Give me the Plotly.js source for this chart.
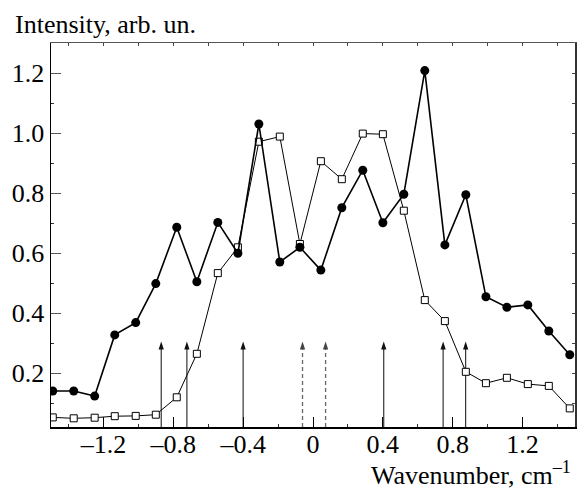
<!DOCTYPE html>
<html>
<head>
<meta charset="utf-8">
<script src="https://cdn.plot.ly/plotly-3.0.1.min.js"></script>
<style>html,body{margin:0;padding:0;background:#fff;}#chart{width:578px;height:488px;}</style>
</head>
<body>
<div id="chart"></div>
<script>
// Wavenumber positions (cm^-1)
const wavenumber = [-1.49, -1.37, -1.25, -1.135, -1.015, -0.90, -0.78, -0.665, -0.545, -0.43, -0.31, -0.19, -0.075, 0.045, 0.165, 0.285, 0.40, 0.52, 0.64, 0.755, 0.875, 0.99, 1.11, 1.23, 1.35, 1.47];
// Filled circles series
const intensityFilled = [0.14, 0.14, 0.123, 0.327, 0.368, 0.498, 0.686, 0.504, 0.702, 0.599, 1.03, 0.57, 0.619, 0.543, 0.751, 0.876, 0.701, 0.796, 1.208, 0.627, 0.794, 0.454, 0.419, 0.427, 0.34, 0.261];
// Open squares series
const intensityOpen = [0.052, 0.049, 0.051, 0.056, 0.057, 0.061, 0.119, 0.264, 0.533, 0.619, 0.971, 0.988, 0.63, 0.906, 0.846, 0.998, 0.996, 0.741, 0.443, 0.373, 0.204, 0.166, 0.184, 0.163, 0.157, 0.082];
// Vertical arrows
const arrowX = [-0.869, -0.722, -0.40, -0.06, 0.072, 0.405, 0.745, 0.874];
const arrowDashed = [false, false, false, true, true, false, false, false];
const arrowBase = 0.02;
const arrowTip = 0.305;
// Tick labels
const xTickVals = [-1.2, -0.8, -0.4, 0, 0.4, 0.8, 1.2];
const xTickText = ['–1.2', '–0.8', '–0.4', '0', '0.4', '0.8', '1.2'];
const yTickVals = [0.2, 0.4, 0.6, 0.8, 1.0, 1.2];
const yTickText = ['0.2', '0.4', '0.6', '0.8', '1.0', '1.2'];
const yTitle = 'Intensity, arb. un.';
const xTitle = 'Wavenumber, cm<sup>–1</sup>';

const FONT = '"Liberation Serif", "Times New Roman", serif';
const traces = [];

arrowX.forEach((ax, i) => {
  traces.push({
    x: [ax, ax], y: [arrowBase, arrowTip - 0.02], mode: 'lines', hoverinfo: 'skip',
    line: arrowDashed[i] ? {color: '#666', width: 1.3, dash: '4px,3px'} : {color: '#222', width: 1.1}
  });
});
traces.push({
  x: arrowX, y: arrowX.map(() => arrowTip), mode: 'markers', hoverinfo: 'skip',
  marker: {symbol: 'arrow', size: 8.5, color: arrowX.map((_, i) => arrowDashed[i] ? '#444' : '#111'), line: {width: 0}}
});
traces.push({
  x: wavenumber, y: intensityOpen, mode: 'lines',
  line: {color: '#000', width: 1}
});
traces.push({
  x: wavenumber, y: intensityOpen, mode: 'markers',
  marker: {symbol: 'square', size: 7, color: '#fff', line: {width: 1, color: '#000'}}
});
traces.push({
  x: wavenumber, y: intensityFilled, mode: 'lines+markers',
  line: {color: '#000', width: 1.6},
  marker: {symbol: 'circle', size: 9, color: '#000'}
});
traces.push({x: [], y: [], xaxis: 'x2', yaxis: 'y2', mode: 'markers', hoverinfo: 'skip'});

const layout = {
  width: 578, height: 488,
  margin: {l: 51, r: 3, t: 43, b: 61},
  paper_bgcolor: '#fff', plot_bgcolor: '#fff',
  showlegend: false,
  font: {family: FONT, size: 26, color: '#000'},
  xaxis: {
    range: [-1.5, 1.5], tickmode: 'array', tickvals: xTickVals, ticktext: xTickText,
    ticks: 'inside', ticklen: 10, tickwidth: 1, tickcolor: '#000', ticklabelstandoff: -7,
    minor: {tickmode: 'linear', tick0: 0, dtick: 0.2, ticks: 'inside', ticklen: 3, tickcolor: '#333'},
    showline: true, linecolor: '#000', linewidth: 1.5, showgrid: false, zeroline: false,
    tickfont: {family: FONT, size: 26}
  },
  yaxis: {
    range: [0.02, 1.3], tickmode: 'array', tickvals: yTickVals, ticktext: yTickText,
    ticks: 'inside', ticklen: 10, tickwidth: 1, tickcolor: '#555',
    minor: {tickmode: 'linear', tick0: 0, dtick: 0.1, ticks: 'inside', ticklen: 3, tickcolor: '#333'},
    showline: true, linecolor: '#000', linewidth: 1.5, showgrid: false, zeroline: false,
    tickfont: {family: FONT, size: 26}
  },
  xaxis2: {
    overlaying: 'x', side: 'top', anchor: 'y2', range: [-1.5, 1.5], tickmode: 'linear', tick0: 0, dtick: 0.2,
    ticks: 'inside', ticklen: 3, tickcolor: '#444', showticklabels: false,
    showline: true, linecolor: '#555', linewidth: 1.5, showgrid: false, zeroline: false
  },
  yaxis2: {
    overlaying: 'y', side: 'right', anchor: 'x2', range: [0.02, 1.3], tickmode: 'linear', tick0: 0, dtick: 0.1,
    ticks: 'inside', ticklen: 3, tickcolor: '#444', showticklabels: false,
    showline: true, linecolor: '#333', linewidth: 1.5, showgrid: false, zeroline: false
  },
  annotations: [
    {text: yTitle, xref: 'paper', yref: 'paper', x: -0.073, y: 1.047, xanchor: 'left', yanchor: 'middle',
     showarrow: false, font: {family: FONT, size: 26, color: '#000'}},
    {text: xTitle, xref: 'paper', yref: 'paper', x: 0.997, y: -0.12, xanchor: 'right', yanchor: 'middle',
     showarrow: false, font: {family: FONT, size: 26, color: '#000'}}
  ]
};

Plotly.newPlot('chart', traces, layout, {displayModeBar: false, staticPlot: true});
</script>
</body>
</html>
